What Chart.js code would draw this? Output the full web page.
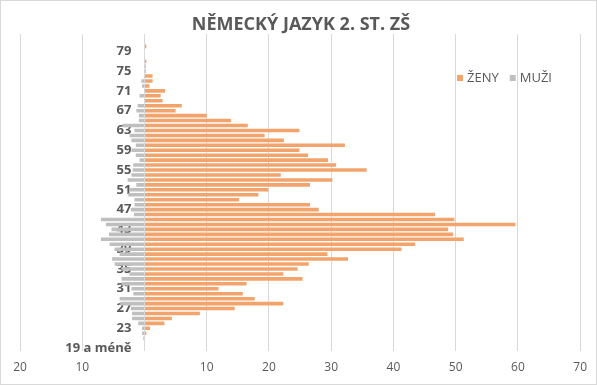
<!DOCTYPE html>
<html lang="cs">
<head>
<meta charset="UTF-8">
<title>Německý jazyk 2. st. ZŠ</title>
<style>
  body { margin: 0; background: #ffffff; }
  #wrap { width: 597px; height: 385px; position: relative; }
</style>
</head>
<body>
<div id="wrap"><canvas id="chart"></canvas></div>

<script src="https://cdn.jsdelivr.net/npm/chart.js"></script>
<script>
// věkové kategorie (odspodu nahoru)
const vek = ['19 a méně', '20', '21', '22', '23', '24', '25', '26', '27', '28', '29',
  '30', '31', '32', '33', '34', '35', '36', '37', '38', '39',
  '40', '41', '42', '43', '44', '45', '46', '47', '48', '49',
  '50', '51', '52', '53', '54', '55', '56', '57', '58', '59',
  '60', '61', '62', '63', '64', '65', '66', '67', '68', '69',
  '70', '71', '72', '73', '74', '75', '76', '77', '78', '79',
  '80', '81', '82'];

const zeny = [0, 0, 0.1, 0.3, 0.9, 3.2, 4.4, 8.9, 14.5, 22.3, 17.7,
  15.8, 11.9, 16.4, 25.4, 22.3, 24.6, 26.4, 32.7, 29.4, 41.3,
  43.5, 51.3, 49.6, 48.8, 59.6, 49.8, 46.7, 28.0, 26.6, 15.2,
  18.3, 19.9, 26.6, 30.2, 21.9, 35.7, 30.8, 29.5, 26.3, 24.9,
  32.2, 22.4, 19.3, 24.9, 16.6, 13.9, 10.0, 5.0, 6.0, 2.9,
  2.6, 3.3, 0.8, 1.3, 1.3, 0.2, 0.2, 0.3, 0, 0,
  0.3, 0, 0];

const muzi = [0, 0, 0.2, 0.4, 0.4, 1.0, 2.0, 2.0, 2.2, 3.9, 4.0,
  1.8, 2.1, 3.7, 3.7, 2.4, 3.7, 4.8, 5.2, 4.0, 4.8,
  5.6, 7.0, 5.7, 5.3, 6.2, 7.0, 1.7, 2.2, 1.6, 1.6,
  2.6, 2.4, 1.3, 2.7, 2.1, 1.9, 1.8, 0.8, 1.4, 2.1,
  1.4, 2.1, 2.4, 1.6, 3.5, 0.9, 0.9, 1.3, 1.1, 0,
  0.8, 0, 0.4, 0.5, 0, 0, 0, 0, 0, 0,
  0, 0, 0];

const textColor = '#595959';

// ramecek a bile pozadi
const frame = {
  id: 'frame',
  beforeDraw(chart) {
    const ctx = chart.ctx;
    ctx.save();
    ctx.fillStyle = '#ffffff';
    ctx.fillRect(0, 0, chart.width, chart.height);
    ctx.restore();
  },
  afterDraw(chart) {
    const ctx = chart.ctx;
    ctx.save();
    ctx.strokeStyle = '#d9d9d9';
    ctx.lineWidth = 1;
    ctx.strokeRect(0.5, 0.5, chart.width - 1, chart.height - 1);
    ctx.restore();
  }
};

// legenda uvnitr grafu vpravo nahore
const innerLegend = {
  id: 'innerLegend',
  afterDraw(chart) {
    const ctx = chart.ctx;
    let x = 457;
    const y = 78;
    ctx.save();
    ctx.font = '13px "Open Sans", sans-serif';
    ctx.textBaseline = 'middle';
    chart.data.datasets.forEach(ds => {
      ctx.fillStyle = ds.backgroundColor;
      ctx.fillRect(x, y - 3, 6, 6);
      x += 10;
      ctx.fillStyle = textColor;
      ctx.fillText(ds.label, x, y);
      x += ctx.measureText(ds.label).width + 11;
    });
    ctx.restore();
  }
};

new Chart(document.getElementById('chart'), {
  type: 'bar',
  data: {
    labels: vek,
    datasets: [
      {
        label: 'ŽENY',
        data: zeny,
        backgroundColor: '#f2a46c',
        barPercentage: 0.72,
        categoryPercentage: 1.0
      },
      {
        label: 'MUŽI',
        data: muzi.map(v => -v),
        backgroundColor: '#bfbfbf',
        barPercentage: 0.72,
        categoryPercentage: 1.0
      }
    ]
  },
  options: {
    indexAxis: 'y',
    responsive: true,
    maintainAspectRatio: false,
    animation: false,
    layout: { padding: { left: 20, right: 15, top: 0, bottom: 0 } },
    plugins: {
      legend: { display: false },
      tooltip: { enabled: false },
      title: {
        display: true,
        text: 'NĚMECKÝ JAZYK 2. ST. ZŠ',
        color: textColor,
        font: { family: '"Open Sans", sans-serif', size: 18, weight: 'bold', lineHeight: 1.0 },
        padding: { top: 16, bottom: 0 }
      }
    },
    scales: {
      x: {
        stacked: true,
        min: -20,
        max: 70,
        ticks: {
          stepSize: 10,
          color: textColor,
          padding: 10,
          font: { family: '"Open Sans", sans-serif', size: 12 },
          callback: v => v === 0 ? '' : String(Math.abs(v))
        },
        grid: { color: '#d9d9d9', drawTicks: false },
        border: { display: false }
      },
      y: {
        stacked: true,
        reverse: true,
        // popisky kousek vlevo od nulove osy
        position: { x: -2.1 },
        z: 1,
        ticks: {
          autoSkip: false,
          color: textColor,
          font: { family: '"Open Sans", sans-serif', size: 13, weight: 'bold' },
          callback: function (v, i) { return i % 4 === 0 ? this.getLabelForValue(v) : ''; }
        },
        grid: { display: false, drawTicks: false },
        border: { display: false }
      }
    }
  },
  plugins: [frame, innerLegend]
});
</script>
</body>
</html>
